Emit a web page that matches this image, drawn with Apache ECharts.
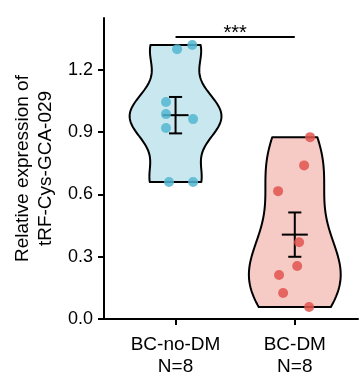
<!DOCTYPE html>
<html><head><meta charset="utf-8">
<script src="https://cdn.jsdelivr.net/npm/echarts@6/dist/echarts.min.js"></script>
<style>html,body{margin:0;padding:0;background:#fff}#c{width:359px;height:384px}</style>
</head><body><div id="c"></div><script>
const categories = ['BC-no-DM', 'BC-DM'];
const sampleSizes = [8, 8];
const noDM = [1.30, 1.32, 1.045, 0.987, 0.963, 0.92, 0.66, 0.66];
const DM = [0.876, 0.74, 0.616, 0.37, 0.255, 0.212, 0.125, 0.058];
const jitterNoDM = [0.013, 0.14, -0.08, -0.08, 0.147, -0.08, -0.055, 0.147];
const jitterDM = [0.128, 0.078, -0.14, 0.036, 0.02, -0.132, -0.098, 0.12];
const yTicks = [0, 0.3, 0.6, 0.9, 1.2];
const significance = '***';
const sigLevel = 1.359;

const groups = [noDM, DM];
const jitters = [jitterNoDM, jitterDM];
const fills = ['#c8e7ef', '#f6cac5'];
const dots = ['#52b6d1', '#e2554f'];
const FONT = 'Liberation Sans, Arial, sans-serif';

function mean(a){return a.reduce((s,v)=>s+v,0)/a.length;}
function sd(a){const m=mean(a);return Math.sqrt(a.reduce((s,v)=>s+(v-m)*(v-m),0)/(a.length-1));}
function quantile(s,p){const h=(s.length-1)*p;const lo=Math.floor(h);const hi=Math.min(lo+1,s.length-1);return s[lo]+(h-lo)*(s[hi]-s[lo]);}
function bwNrd0(x){const s=[...x].sort((a,b)=>a-b);const iqr=(quantile(s,0.75)-quantile(s,0.25))/1.34;let lo=Math.min(sd(x),iqr);if(!lo)lo=sd(x)||1;return 0.9*lo*Math.pow(x.length,-0.2);}
function kde(x,bw,y){let d=0;for(const v of x){const z=(y-v)/bw;d+=Math.exp(-0.5*z*z);}return d;}

const HALF = 0.385;
const violinShapes = groups.map(g=>{
  const bw=bwNrd0(g);const lo=Math.min(...g), hi=Math.max(...g);
  const ys=[];const N=80;for(let i=0;i<=N;i++)ys.push(lo+(hi-lo)*i/N);
  const ds=ys.map(y=>kde(g,bw,y));const dm=Math.max(...ds);
  return ys.map((y,i)=>[y, ds[i]/dm*HALF]);
});

const chart = echarts.init(document.getElementById('c'), null, {renderer:'canvas'});
const series = [];
series.push({
  type:'custom', xAxisIndex:0, yAxisIndex:0, z:1,
  data: groups.map((g,i)=>[i+1, mean(g)]),
  renderItem(params, api){
    const gi=params.dataIndex; const cx=gi+1; const shp=violinShapes[gi];
    const pts=[];
    for(const [y,w] of shp) pts.push(api.coord([cx+w,y]));
    for(let k=shp.length-1;k>=0;k--){const [y,w]=shp[k];pts.push(api.coord([cx-w,y]));}
    return {type:'polygon', shape:{points:pts}, style:{fill:fills[gi], stroke:'#000', lineWidth:2, lineJoin:'round'}};
  }
});
series.push({
  type:'custom', z:3,
  data: groups.map((g,i)=>[i+1, mean(g)]),
  renderItem(params, api){
    const gi=params.dataIndex; const cx=gi+1; const g=groups[gi];
    const m=mean(g), se=sd(g)/Math.sqrt(g.length);
    const st={stroke:'#000', lineWidth:2};
    const L=(a,b)=>({type:'line', shape:{x1:a[0],y1:a[1],x2:b[0],y2:b[1]}, style:st});
    return {type:'group', children:[
      L(api.coord([cx, m-se]), api.coord([cx, m+se])),
      L(api.coord([cx-0.055, m+se]), api.coord([cx+0.055, m+se])),
      L(api.coord([cx-0.055, m-se]), api.coord([cx+0.055, m-se])),
      L(api.coord([cx-0.109, m]), api.coord([cx+0.109, m]))
    ]};
  }
});
groups.forEach((g,i)=>{
  series.push({
    type:'scatter', z:4, symbolSize:10,
    data: g.map((v,k)=>[i+1+jitters[i][k], v]),
    itemStyle:{color:dots[i], opacity:0.85},
    silent:true
  });
});
series.push({
  type:'custom', z:5, data:[[1.5, sigLevel]],
  renderItem(params, api){
    const a=api.coord([1, sigLevel]), b=api.coord([2, sigLevel]), c=api.coord([1.5, sigLevel]);
    return {type:'group', children:[
      {type:'line', shape:{x1:a[0],y1:a[1],x2:b[0],y2:b[1]}, style:{stroke:'#000', lineWidth:2}},
      {type:'text', x:c[0], y:c[1]+7, style:{text:significance, fontSize:20, fontFamily:FONT, fill:'#000', align:'center', verticalAlign:'bottom'}}
    ]};
  }
});

chart.setOption({
  animation:false,
  grid:{left:104, right:1, top:18, bottom:65},
  xAxis:{type:'value', min:0.4, max:2.53,
    axisLine:{onZero:false, lineStyle:{color:'#000', width:2}},
    axisTick:{customValues:[1,2], length:6, lineStyle:{color:'#000', width:2}},
    axisLabel:{customValues:[1,2], margin:15, fontSize:19, lineHeight:22, color:'#000', fontFamily:FONT,
      formatter:v=>{const i=Math.round(v)-1;return categories[i]+'\nN='+sampleSizes[i];}},
    splitLine:{show:false}},
  yAxis:{type:'value', min:0, max:1.45,
    name:'Relative expression of\ntRF-Cys-GCA-029', nameLocation:'middle', nameRotate:90, nameGap:47,
    nameTextStyle:{fontSize:19, lineHeight:23, color:'#000', fontFamily:FONT},
    axisLine:{show:true, lineStyle:{color:'#000', width:2}},
    axisTick:{show:true, customValues:yTicks, length:6, lineStyle:{color:'#000', width:2}},
    axisLabel:{customValues:yTicks, margin:11, fontSize:18, color:'#000', fontFamily:FONT, formatter:v=>v.toFixed(1)},
    splitLine:{show:false}},
  series
});
</script></body></html>
